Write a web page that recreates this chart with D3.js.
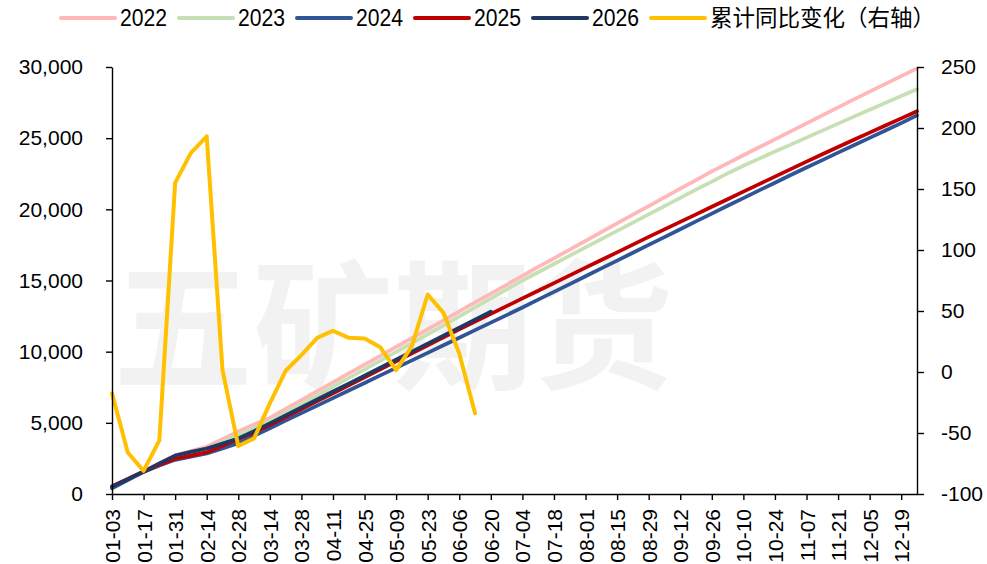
<!DOCTYPE html>
<html>
  <head>
    <meta charset="utf-8">
    <script src="https://d3js.org/d3.v7.min.js"></script>
    <style>
      body { margin: 0; background: #fff; }
      text { font-family: "Liberation Sans", Arial, sans-serif; }
    </style>
  </head>
  <body>
    <div id="chart"></div>
    <script>
      // weekly dates
      const dates = ["01-03","01-10","01-17","01-24","01-31","02-07","02-14","02-21","02-28","03-07",
        "03-14","03-21","03-28","04-04","04-11","04-18","04-25","05-02","05-09","05-16",
        "05-23","05-30","06-06","06-13","06-20","06-27","07-04","07-11","07-18","07-25",
        "08-01","08-08","08-15","08-22","08-29","09-05","09-12","09-19","09-26","10-03",
        "10-10","10-17","10-24","10-31","11-07","11-14","11-21","11-28","12-05","12-12",
        "12-19","12-26"];

      const y2022 = [500,1050,1580,2150,2720,3020,3320,3850,4400,4880,
        5350,5980,6600,7230,7850,8470,9090,9710,10330,10950,
        11570,12200,12830,13460,14080,14700,15330,15950,16560,17170,
        17780,18400,19010,19620,20230,20840,21450,22060,22660,23230,
        23800,24360,24920,25480,26040,26600,27160,27720,28270,28820,
        29360,29900];
      const y2023 = [450,1000,1550,2050,2500,2850,3150,3650,4150,4620,
        5100,5710,6320,6930,7540,8150,8760,9370,9980,10600,
        11220,11850,12480,13110,13740,14370,15000,15580,16160,16740,
        17320,17900,18480,19060,19640,20220,20800,21380,21950,22520,
        23060,23560,24060,24550,25040,25530,26020,26510,27000,27480,
        27960,28440];
      const y2024 = [400,980,1550,2000,2400,2620,2850,3200,3560,4090,
        4620,5150,5680,6210,6740,7270,7800,8330,8860,9390,
        9920,10450,10980,11510,12040,12570,13100,13650,14200,14750,
        15300,15850,16400,16950,17500,18050,18600,19150,19700,20250,
        20790,21330,21870,22410,22940,23460,23980,24500,25020,25540,
        26060,26600];
      const y2025 = [550,1060,1580,2050,2480,2700,2920,3380,3850,4340,
        4840,5400,5960,6520,7080,7640,8200,8760,9320,9880,
        10440,11000,11560,12110,12660,13200,13740,14280,14820,15360,
        15900,16440,16980,17520,18060,18590,19120,19650,20180,20710,
        21240,21770,22300,22830,23350,23870,24380,24890,25390,25890,
        26390,26890];
      const y2026 = [500,1040,1570,2150,2700,2960,3200,3540,3900,4420,
        4960,5520,6080,6640,7200,7760,8320,8880,9440,10000,
        10570,11130,11690,12250,12810];
      // 累计同比 (%), right axis
      const yoy = [-17.5,-66,-81,-56,155,179.6,193.2,1.6,-60.7,-54.4,
        -25.7,1,13.9,28,33.8,28,27.5,20.2,1.6,21.2,
        63.5,48.5,15.2,-33.9];

      const leftTicks = [0,5000,10000,15000,20000,25000,30000];
      const rightTicks = [-100,-50,0,50,100,150,200,250];

      const width = 987, height = 564;
      const margin = {top: 67, right: 70, bottom: 70, left: 112};

      const series = [
        {name: "2022", values: y2022, color: "#ffb7b7", axis: "left"},
        {name: "2023", values: y2023, color: "#c6e0b4", axis: "left"},
        {name: "2024", values: y2024, color: "#2f5597", axis: "left"},
        {name: "2025", values: y2025, color: "#c00000", axis: "left"},
        {name: "2026", values: y2026, color: "#203864", axis: "left"},
        {name: "累计同比变化（右轴）", values: yoy, color: "#ffc000", axis: "right"}
      ];

      const svg = d3.create("svg")
        .attr("width", width)
        .attr("height", height);
      // attach first so text can be measured
      document.getElementById("chart").appendChild(svg.node());

      const xScale = d3.scalePoint()
        .domain(dates)
        .range([margin.left, 917]);

      const yLeft = d3.scaleLinear()
        .domain([0, 30000])
        .range([494, margin.top]);

      const yRight = d3.scaleLinear()
        .domain([-100, 250])
        .range([494, margin.top]);

      // watermark
      svg.append("text")
        .attr("x", 113)
        .attr("y", 378)
        .style("font-family", "'Noto Sans CJK SC', sans-serif")
        .style("font-weight", "bold")
        .style("font-size", "140px")
        .attr("fill", "#f2f2f2")
        .text("五矿期货");

      // lines
      series.forEach(s => {
        const ys = s.axis === "left" ? yLeft : yRight;
        const line = d3.line()
          .x((d, i) => xScale(dates[i]))
          .y(d => ys(d));
        svg.append("path")
          .datum(s.values)
          .attr("d", line)
          .attr("fill", "none")
          .attr("stroke", s.color)
          .attr("stroke-width", s.axis === "right" ? 4 : 3.7)
          .attr("stroke-linejoin", "round")
          .attr("stroke-linecap", "round");
      });

      // x axis
      const xAxis = svg.append("g")
        .attr("transform", "translate(0,494)")
        .call(d3.axisBottom(xScale)
          .tickValues(dates.filter((d, i) => i % 2 === 0))
          .tickSize(6)
          .tickSizeOuter(0));
      xAxis.selectAll("text")
        .attr("transform", "rotate(-90)")
        .attr("text-anchor", "end")
        .attr("x", -15)
        .attr("y", 0)
        .attr("dy", "0.36em")
        .style("font-size", "21px")
        .attr("fill", "#000");

      // left axis
      const yAxisL = svg.append("g")
        .attr("transform", `translate(${margin.left},0)`)
        .call(d3.axisLeft(yLeft)
          .tickValues(leftTicks)
          .tickFormat(d3.format(","))
          .tickSize(6)
          .tickSizeOuter(0));
      yAxisL.selectAll("text")
        .attr("x", -29)
        .style("font-size", "21px")
        .attr("fill", "#000");

      // right axis
      const yAxisR = svg.append("g")
        .attr("transform", "translate(917,0)")
        .call(d3.axisRight(yRight)
          .tickValues(rightTicks)
          .tickFormat(d => String(d))
          .tickSize(7)
          .tickSizeOuter(0));
      yAxisR.selectAll("text")
        .attr("x", 24)
        .style("font-size", "21px")
        .attr("fill", "#000");

      svg.selectAll(".domain, .tick line")
        .attr("stroke", "#000")
        .attr("stroke-width", 1.4);

      // legend
      let lx = 61;
      series.forEach(s => {
        const g = svg.append("g");
        g.append("line")
          .attr("x1", lx).attr("x2", lx + 54)
          .attr("y1", 18).attr("y2", 18)
          .attr("stroke", s.color)
          .attr("stroke-width", 4)
          .attr("stroke-linecap", "round");
        const t = g.append("text")
          .attr("x", lx + 59)
          .attr("y", 18)
          .attr("dy", "0.36em")
          .attr("fill", "#000")
          .text(s.name);
        if (s.axis === "right") {
          t.style("font-size", "22.5px")
           .style("font-family", "'Noto Sans CJK SC', sans-serif");
        } else {
          t.style("font-size", "23px")
           .attr("textLength", 47)
           .attr("lengthAdjust", "spacingAndGlyphs");
        }
        lx += 59 + t.node().getComputedTextLength() + 12;
      });
    </script>
  </body>
</html>
